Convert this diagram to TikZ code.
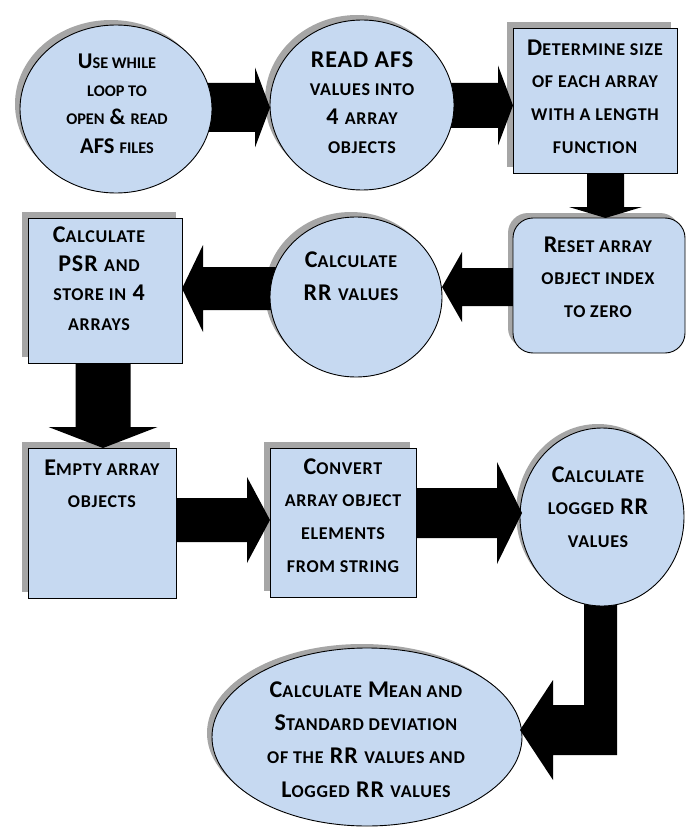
\documentclass[tikz,border=0pt]{standalone}
\usepackage{fontspec}
\setmainfont{Carlito}
\newfontfamily\wideA[LetterSpace=4]{Carlito}
\usetikzlibrary{shapes.geometric}
\definecolor{boxfill}{HTML}{C6D9F1}
\definecolor{shadowc}{HTML}{A6A6A6}
\newcommand\smsz{16}
\newcommand\sm[1]{{\fontsize{\smsz}{\smsz}\selectfont\MakeUppercase{#1}}}
% right-pointing block arrow: x-start, x-tip, y-centre, shaft half, head half, head length
\newcommand\rarr[6]{\fill[blk] (#1,#3-#4) -- (#2-#6,#3-#4) -- (#2-#6,#3-#5) -- (#2,#3) -- (#2-#6,#3+#5) -- (#2-#6,#3+#4) -- (#1,#3+#4) -- cycle;}
% left-pointing block arrow
\newcommand\larr[6]{\fill[blk] (#1,#3-#4) -- (#2+#6,#3-#4) -- (#2+#6,#3-#5) -- (#2,#3) -- (#2+#6,#3+#5) -- (#2+#6,#3+#4) -- (#1,#3+#4) -- cycle;}
% down-pointing block arrow: x-centre, y-start, y-tip, shaft half, head half, head length
\newcommand\darr[6]{\fill[blk] (#1-#4,#2) -- (#1+#4,#2) -- (#1+#4,#3-#6) -- (#1+#5,#3-#6) -- (#1,#3) -- (#1-#5,#3-#6) -- (#1-#4,#3-#6) -- cycle;}
% text blocks: name, x, first baseline, baselineskip, content
\newcommand\txtA[5]{\node[txt, font=\fontsize{22.5}{#4}\selectfont\bfseries\def\smsz{16.3}] (#1) at (#2,#3-18) {\rule{0pt}{18pt}#5};}
\newcommand\txtB[5]{\node[txt, font=\wideA\fontsize{24}{#4}\selectfont\bfseries\def\smsz{18}] (#1) at (#2,#3-18) {\rule{0pt}{18pt}#5};}
\begin{document}
\begin{tikzpicture}[x=1pt,y=-1pt,
  pbox/.style={draw=black, line width=0.9pt, fill=boxfill, inner sep=0pt, outer sep=0pt},
  shad/.style={fill=shadowc, draw=none, inner sep=0pt, outer sep=0pt},
  ell/.style={ellipse},
  box/.style={rectangle},
  blk/.style={fill=black},
  txt/.style={anchor=north, align=center, inner sep=0pt, text=black}]
\useasboundingbox (0,0) rectangle (691,829);
% ---- shadows
\node[shad, ell, minimum width=192pt, minimum height=168pt] (c1s) at (111,104) {};
\node[shad, ell, minimum width=184pt, minimum height=170pt] (c2s) at (357,100) {};
\node[shad, box, minimum width=164pt, minimum height=145pt] (b1s) at (589,94.5) {};
\node[shad, box, rounded corners=20pt, minimum width=172pt, minimum height=135pt] (b2s) at (594,280.5) {};
\node[shad, ell, minimum width=172pt, minimum height=160pt] (c3s) at (351,292) {};
\node[shad, box, minimum width=154pt, minimum height=145pt] (b3s) at (99,284.5) {};
\node[shad, box, minimum width=148pt, minimum height=150pt] (b4s) at (96,517) {};
\node[shad, box, minimum width=146pt, minimum height=149pt] (b5s) at (337,516.5) {};
\node[shad, ell, minimum width=164pt, minimum height=178pt] (c4s) at (598,513) {};
\node[shad, ell, minimum width=310pt, minimum height=178pt] (c5s) at (362,733) {};
% ---- shapes and arrows (each arrow above its target, below its source)
\node[pbox, ell, minimum width=310pt, minimum height=178pt] (final) at (367,737) {};
\fill[blk] (584,595) -- (617,595) -- (617,755) -- (553,755) -- (553,780) -- (520,730) -- (553,680) -- (553,705) -- (584,705) -- cycle;
\node[pbox, ell, minimum width=164pt, minimum height=178pt] (logged) at (602,517) {};
\rarr{410}{522}{513}{25}{51}{25}
\node[pbox, box, minimum width=146pt, minimum height=149pt] (convert) at (343,522.5) {};
\rarr{170}{270}{520}{22}{43}{23}
\node[pbox, box, minimum width=148pt, minimum height=150pt] (empty) at (102,523) {};
\darr{103}{355}{448}{27.5}{54.5}{21}
\node[pbox, box, minimum width=154pt, minimum height=145pt] (psr) at (105,290.5) {};
\larr{285}{182}{288.5}{21.5}{43.5}{21}
\node[pbox, ell, minimum width=172pt, minimum height=160pt] (rr) at (356,297) {};
\larr{525}{442}{287}{19}{35}{20}
\node[pbox, box, rounded corners=20pt, minimum width=172pt, minimum height=135pt] (reset) at (599,285.5) {};
\darr{605.5}{165}{218}{18.5}{36.5}{11}
\node[pbox, box, minimum width=164pt, minimum height=145pt] (size) at (595,100.5) {};
\rarr{445}{513}{105.5}{22.5}{40}{15}
\node[pbox, ell, minimum width=184pt, minimum height=170pt] (read) at (362,105) {};
\rarr{200}{270}{107.5}{24.5}{40}{15}
\node[pbox, ell, minimum width=192pt, minimum height=168pt] (loop) at (116,109) {};
% ---- texts
\txtA{t1}{117}{68}{28.4}{U\sm{se while}\\\sm{loop to}\\\sm{open} \& \sm{read}\\AFS \sm{files}}
\txtB{t2}{362}{67}{28.7}{READ AFS\\\sm{values into}\\4 \sm{array}\\\sm{objects}}
\txtB{t3}{595}{55}{32.7}{D\sm{etermine size}\\\sm{of each array}\\\sm{with a length}\\\sm{function}}
\txtB{t4}{598}{252}{32.5}{R\sm{eset array}\\\sm{object index}\\\sm{to zero}}
\txtB{t5}{351}{267}{33}{C\sm{alculate}\\RR \sm{values}}
\txtB{t6}{99}{242}{29.3}{C\sm{alculate}\\PSR \sm{and}\\\sm{store in} 4\\\sm{arrays}}
\txtB{t7}{102}{475}{32}{E\sm{mpty array}\\\sm{objects}}
\txtB{t8}{343}{474}{32.7}{C\sm{onvert}\\\sm{array object}\\\sm{elements}\\\sm{from string}}
\txtB{t9}{598}{482}{32.5}{C\sm{alculate}\\\sm{logged} RR\\\sm{values}}
\txtB{t10}{366}{697}{33.3}{C\sm{alculate} M\sm{ean and}\\S\sm{tandard deviation}\\\sm{of the} RR \sm{values and}\\L\sm{ogged} RR \sm{values}}
\end{tikzpicture}
\end{document}
